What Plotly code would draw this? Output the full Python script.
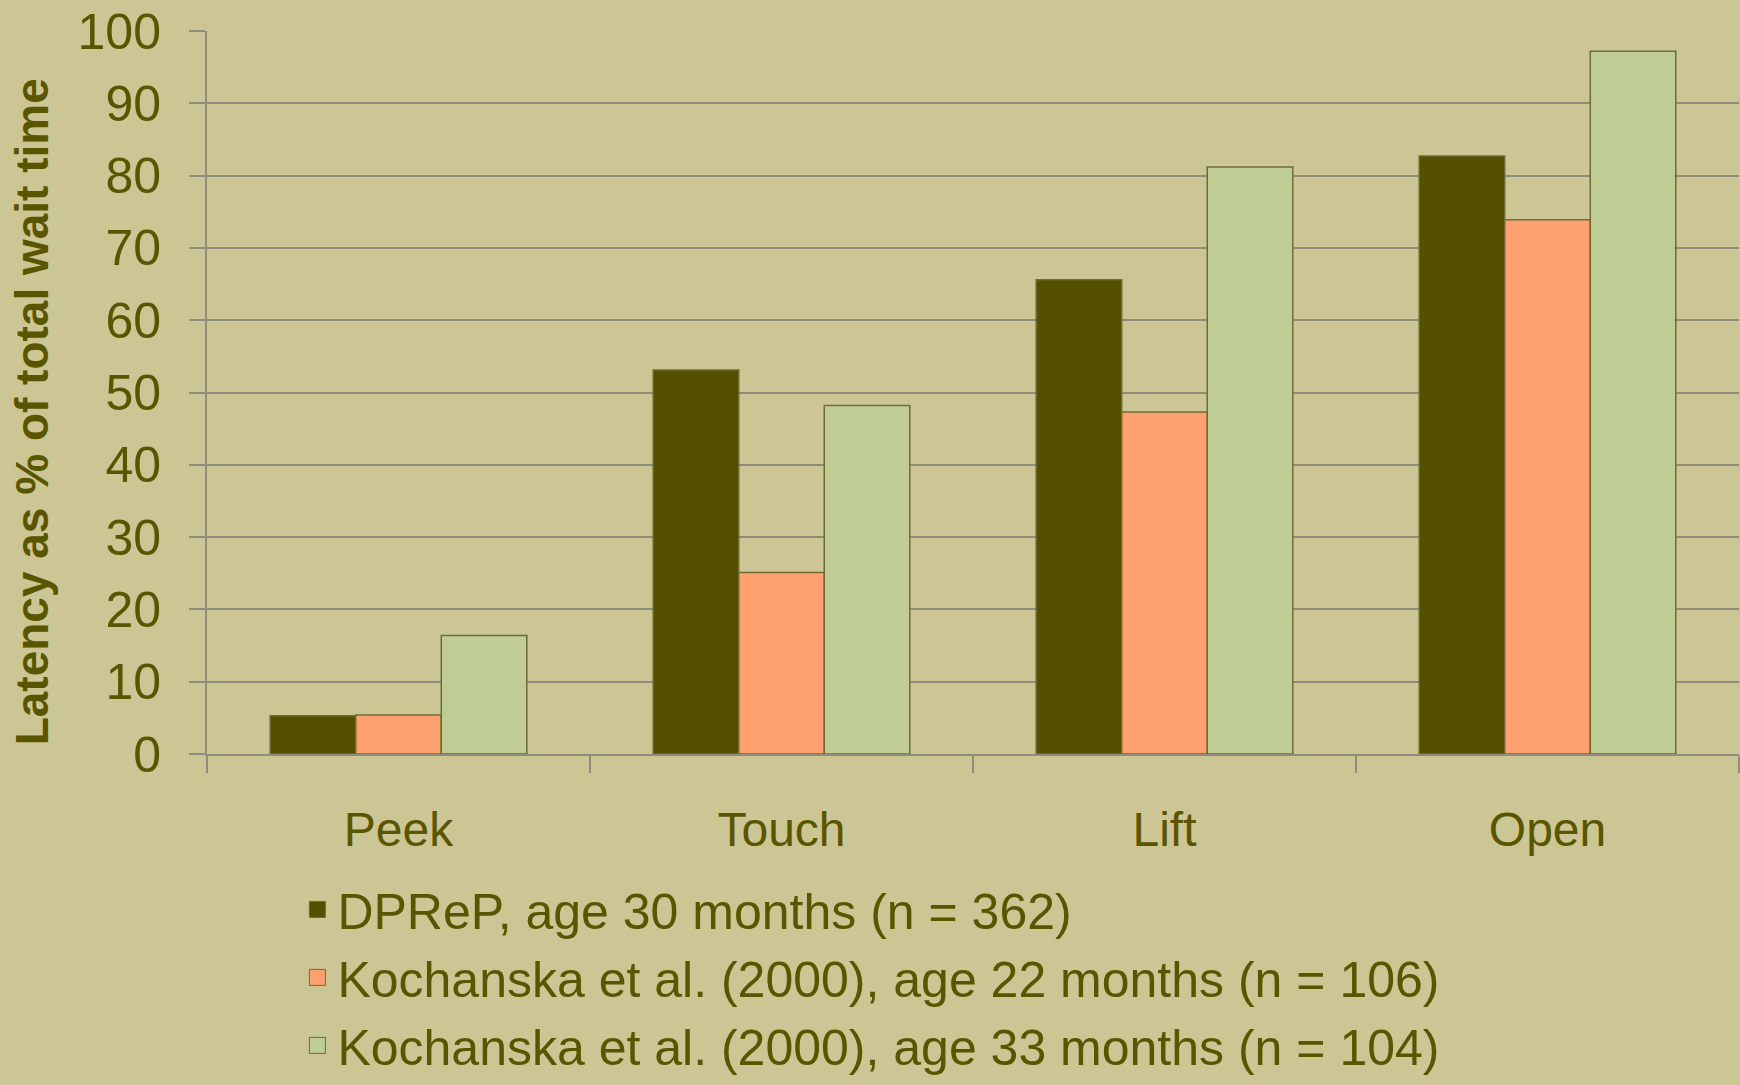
import plotly.graph_objects as go

# Latency as % of total wait time, by behaviour
categories = ["Peek", "Touch", "Lift", "Open"]
series_names = [
    "DPReP, age 30 months (n = 362)",
    "Kochanska et al. (2000), age 22 months (n = 106)",
    "Kochanska et al. (2000), age 33 months (n = 104)",
]
dprep_30 = [5.3, 53.1, 65.6, 82.7]
koch_22 = [5.4, 25.1, 47.3, 73.9]
koch_33 = [16.4, 48.2, 81.2, 97.2]
y_ticks = [0, 10, 20, 30, 40, 50, 60, 70, 80, 90, 100]

bg = "#CCC694"
text_col = "#5A5500"
grid_col = "#8E8C7A"
edge_col = "#6E6C34"
colors = ["#545000", "#FFA070", "#BFCC94"]
font_family = "Arial, Liberation Sans, sans-serif"

fig = go.Figure()
for name, vals, col in zip(series_names, [dprep_30, koch_22, koch_33], colors):
    fig.add_trace(go.Bar(
        x=categories, y=vals, name=name,
        marker=dict(color=col, line=dict(color=edge_col, width=1.5)),
        showlegend=False,
    ))
    # bigger square swatch for the legend
    fig.add_trace(go.Scatter(
        x=[None], y=[None], mode="markers", name=name,
        marker=dict(symbol="square", size=16, color=col,
                    line=dict(color=edge_col, width=1)),
    ))

fig.update_layout(
    width=1740, height=1085,
    paper_bgcolor=bg, plot_bgcolor=bg,
    font=dict(family=font_family, color=text_col, size=47),
    margin=dict(l=207, r=1, t=31, b=331),
    barmode="group", bargap=0.33, bargroupgap=0,
    # legend kept inside the bottom margin so it doesn't push the plot up
    legend=dict(
        x=0.059, y=-0.161, xanchor="left", yanchor="top",
        bgcolor="rgba(0,0,0,0)", font=dict(size=50, color=text_col),
        tracegroupgap=0, itemclick=False,
    ),
)

# y title as an annotation: it sits a little below the axis middle
fig.add_annotation(
    text="<b>Latency as % of total wait time</b>",
    xref="paper", yref="paper", x=-0.114, y=0.473,
    xanchor="center", yanchor="middle", textangle=-90,
    showarrow=False, font=dict(size=46, color=text_col),
)

fig.update_xaxes(
    showline=True, linecolor=grid_col, linewidth=2,
    ticks="outside", tickson="boundaries", ticklen=17,
    tickcolor=grid_col, tickwidth=2,
    ticklabelstandoff=32, tickfont=dict(size=48),
    showgrid=False,
)
fig.update_yaxes(
    range=[0, 100], tickvals=y_ticks,
    showline=True, linecolor=grid_col, linewidth=2,
    showgrid=True, gridcolor=grid_col, gridwidth=2,
    zeroline=False,
    ticks="outside", ticklen=16, tickcolor=grid_col, tickwidth=2,
    ticklabelstandoff=18, tickfont=dict(size=50),
)

fig.write_html("out.html", config={"displayModeBar": False},
               post_script="document.body.style.margin='0';")
